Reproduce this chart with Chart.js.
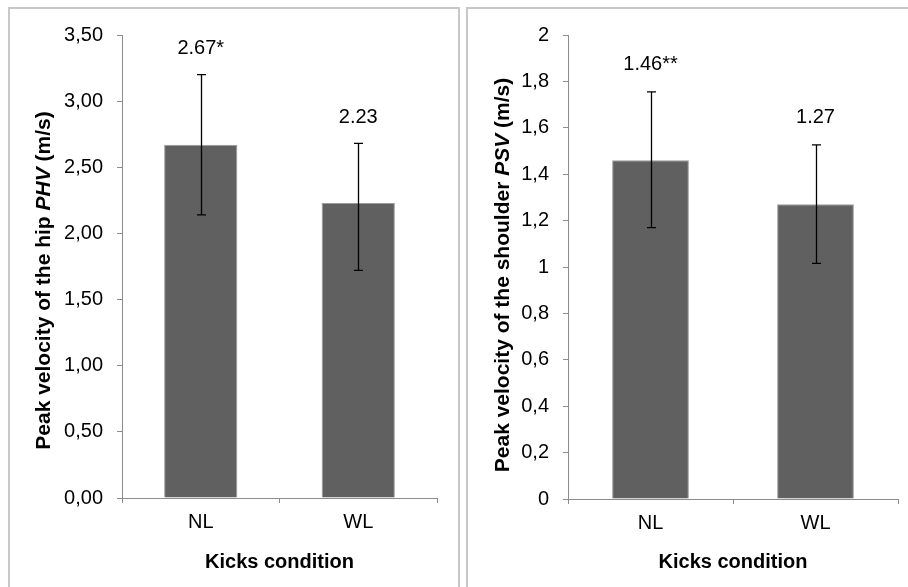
<!DOCTYPE html>
<html>
<head>
<meta charset="utf-8">
<script src="https://cdn.jsdelivr.net/npm/chart.js@4/dist/chart.umd.min.js"></script>
<style>
  body { margin: 0; background: #fff; overflow: hidden; }
  .panel { position: absolute; top: 7px; height: 640px; border: 2px solid #c8c8c8; box-sizing: border-box; }
  .panel canvas { position: absolute; left: 0; top: 0; }
</style>
</head>
<body>
<div class="panel" style="left:8px; width:452px;"><canvas id="hip" width="448" height="578"></canvas></div>
<div class="panel" style="left:466px; width:470px;"><canvas id="shoulder" width="440" height="578"></canvas></div>
<script>
// data
const conditions = ["NL", "WL"];

const hipMeans = [2.67, 2.23];
const hipErrHigh = [3.20, 2.68];
const hipErrLow = [2.14, 1.72];
const hipLabels = ["2.67*", "2.23"];

const shoulderMeans = [1.46, 1.27];
const shoulderErrHigh = [1.755, 1.526];
const shoulderErrLow = [1.17, 1.016];
const shoulderLabels = ["1.46**", "1.27"];

const FONT = "'Liberation Sans', Arial, sans-serif";
const AXIS_GREY = "#8c8c8c";

// error bars + value labels above them
const errorBarPlugin = {
  id: "errorBars",
  afterDatasetsDraw(chart, args, opts) {
    const ctx = chart.ctx;
    const y = chart.scales.y;
    const meta = chart.getDatasetMeta(0);
    ctx.save();
    meta.data.forEach((bar, i) => {
      const top = y.getPixelForValue(opts.high[i]);
      const bot = y.getPixelForValue(opts.low[i]);
      const x = Math.round(bar.x) + 0.5;
      ctx.strokeStyle = "#000";
      ctx.lineWidth = 1.3;
      ctx.beginPath();
      ctx.moveTo(x, top); ctx.lineTo(x, bot);
      ctx.moveTo(x - 4.5, top); ctx.lineTo(x + 4.5, top);
      ctx.moveTo(x - 4.5, bot); ctx.lineTo(x + 4.5, bot);
      ctx.stroke();
      ctx.fillStyle = "#000";
      ctx.font = "20px " + FONT;
      ctx.textAlign = "center";
      ctx.textBaseline = "middle";
      ctx.fillText(opts.labels[i], bar.x, top - opts.labelGap);
    });
    ctx.restore();
  }
};

// rotated y title with an italic piece
const yTitlePlugin = {
  id: "yTitle",
  afterDraw(chart, args, opts) {
    const ctx = chart.ctx;
    const area = chart.chartArea;
    const parts = opts.parts;
    ctx.save();
    ctx.translate(opts.x, (area.top + area.bottom) / 2 + opts.shift);
    ctx.rotate(-Math.PI / 2);
    ctx.fillStyle = "#000";
    ctx.textBaseline = "middle";
    ctx.textAlign = "left";
    let total = 0;
    parts.forEach(p => { ctx.font = p.font; total += ctx.measureText(p.text).width; });
    let cx = -total / 2;
    parts.forEach(p => {
      ctx.font = p.font;
      ctx.fillText(p.text, cx, 0);
      cx += ctx.measureText(p.text).width;
    });
    ctx.restore();
  }
};

function makeChart(id, cfg) {
  return new Chart(document.getElementById(id), {
    type: "bar",
    data: {
      labels: conditions,
      datasets: [{
        data: cfg.means,
        backgroundColor: "#606060",
        borderColor: "#9a9a9a",
        borderWidth: 1,
        categoryPercentage: 1,
        barPercentage: 0.465
      }]
    },
    options: {
      responsive: false,
      animation: false,
      layout: { padding: { left: 0, right: cfg.padRight, top: 23, bottom: 0 } },
      plugins: {
        legend: { display: false },
        tooltip: { enabled: false },
        errorBars: { high: cfg.high, low: cfg.low, labels: cfg.labels, labelGap: cfg.labelGap },
        yTitle: { x: cfg.titleX, shift: cfg.titleShift, parts: cfg.titleParts }
      },
      scales: {
        x: {
          afterFit(s) { s.height = cfg.xHeight; },
          grid: { offset: true, drawOnChartArea: false, tickLength: 5, color: AXIS_GREY },
          border: { color: AXIS_GREY },
          ticks: { color: "#000", font: { family: FONT, size: 20 }, padding: 7 },
          title: {
            display: true, text: "Kicks condition", color: "#000",
            font: { family: FONT, size: 20, weight: "bold" }, padding: { top: 0, bottom: 13 }
          }
        },
        y: {
          min: 0, max: cfg.max,
          afterFit(s) { s.width = cfg.yWidth; },
          grid: { drawOnChartArea: false, tickLength: 5, color: AXIS_GREY },
          border: { color: AXIS_GREY },
          ticks: { stepSize: cfg.step, color: "#000", font: { family: FONT, size: 20 }, padding: 14, callback: cfg.fmt }
        }
      }
    },
    plugins: [errorBarPlugin, yTitlePlugin]
  });
}

const boldFont = "bold 21px " + FONT;
const boldItalic = "italic bold 21px " + FONT;

makeChart("hip", {
  means: hipMeans, high: hipErrHigh, low: hipErrLow, labels: hipLabels, labelGap: 26,
  max: 3.5, step: 0.5, fmt: v => v.toFixed(2).replace(".", ","),
  yWidth: 112, xHeight: 89, padRight: 21, titleX: 34, titleShift: 14,
  titleParts: [
    { text: "Peak velocity of the hip ", font: boldFont },
    { text: "PHV", font: boldItalic },
    { text: " (m/s)", font: boldFont }
  ]
});

makeChart("shoulder", {
  means: shoulderMeans, high: shoulderErrHigh, low: shoulderErrLow, labels: shoulderLabels, labelGap: 27,
  max: 2, step: 0.2, fmt: v => String(Math.round(v * 10) / 10).replace(".", ","),
  yWidth: 100, xHeight: 88, padRight: 10, titleX: 35, titleShift: 8,
  titleParts: [
    { text: "Peak velocity of the shoulder ", font: boldFont },
    { text: "PSV", font: boldItalic },
    { text: " (m/s)", font: boldFont }
  ]
});
</script>
</body>
</html>
